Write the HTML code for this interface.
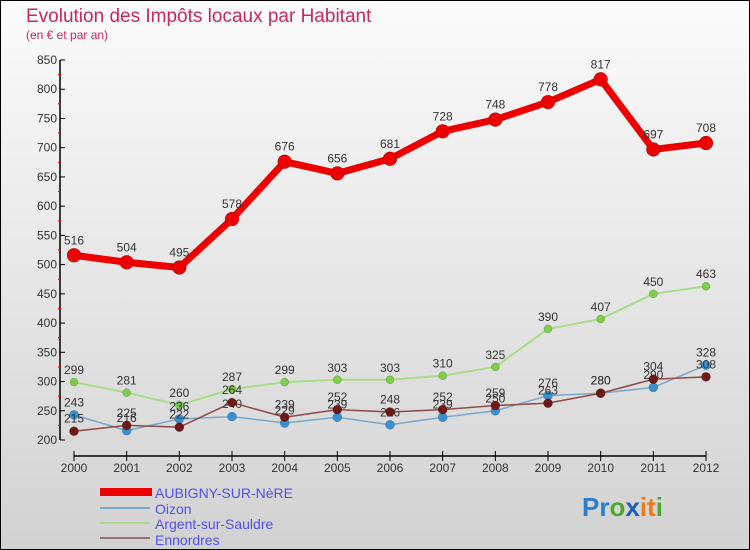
<!DOCTYPE html>
<html><head><meta charset="utf-8"><style>
body{margin:0;}
#wrap{width:750px;height:550px;position:relative;overflow:hidden;font-family:"Liberation Sans","DejaVu Sans",sans-serif;}
</style></head><body>
<div id="wrap">
<svg id="svg" width="750" height="550" xmlns="http://www.w3.org/2000/svg">
<defs><linearGradient id="bg" x1="0" y1="0" x2="0" y2="1"><stop offset="0" stop-color="#fbfbfb"/><stop offset="1" stop-color="#d2d2d2"/></linearGradient></defs>
<rect x="0.5" y="0.5" width="749" height="549" fill="url(#bg)" stroke="#000" stroke-width="1"/>
<text x="26" y="22" font-size="19" fill="#c8285a">Evolution des Impôts locaux par Habitant</text>
<text x="26" y="39" font-size="12" fill="#c8285a">(en € et par an)</text>
<g id="axes"></g><g id="series"></g>
<g>
<rect x="100" y="488" width="52" height="8" fill="#ee0000"/>
<text x="155" y="498" font-size="14" fill="#5050ee">AUBIGNY-SUR-NèRE</text>
<line x1="100" y1="508" x2="150" y2="508" stroke="#7aa8cc" stroke-width="2"/>
<text x="155" y="514" font-size="14" fill="#5050ee">Oizon</text>
<line x1="100" y1="523" x2="150" y2="523" stroke="#a8dc88" stroke-width="2"/>
<text x="155" y="529" font-size="14" fill="#5050ee">Argent-sur-Sauldre</text>
<line x1="100" y1="538" x2="150" y2="538" stroke="#957070" stroke-width="2"/>
<text x="155" y="545" font-size="14" fill="#5050ee">Ennordres</text>
</g>
<text x="582" y="516" font-size="26" font-weight="bold"><tspan fill="#2a7fd0">Pr</tspan><tspan fill="#4caa30">o</tspan><tspan fill="#1a5fc0">x</tspan><tspan fill="#f07a10">it</tspan><tspan fill="#4caa30">i</tspan></text>
</svg></div>
<script>
const years=[2000,2001,2002,2003,2004,2005,2006,2007,2008,2009,2010,2011,2012];
const yTicks=[200,250,300,350,400,450,500,550,600,650,700,750,800,850];
const aubigny=[516,504,495,578,676,656,681,728,748,778,817,697,708];
const oizon=[243,216,236,240,229,239,226,239,250,276,280,290,328];
const argent=[299,281,260,287,299,303,303,310,325,390,407,450,463];
const ennordres=[215,225,222,264,239,252,248,252,259,263,280,304,308];
const NS="http://www.w3.org/2000/svg";
function X(i){return 74+i*(706-74)/(years.length-1);}
function Y(v){return 440-(v-200)*(380/650);}
function mk(t,a,p){const e=document.createElementNS(NS,t);for(const k in a)e.setAttribute(k,a[k]);p.appendChild(e);return e;}
const ax=document.getElementById('axes');
let e=mk('line',{x1:60,y1:Y(850),x2:60,y2:440,stroke:'#000','stroke-width':1.5},ax);


e=mk('line',{x1:74,y1:456,x2:706,y2:456,stroke:'#000','stroke-width':1.5},ax);


yTicks.forEach((v,i)=>{
 mk('line',{x1:60,y1:Y(v),x2:65,y2:Y(v),stroke:'#000'},ax);
 if(i<yTicks.length-1)mk('line',{x1:58,y1:Y(v+25),x2:61,y2:Y(v+25),stroke:'#e00'},ax);
 const t=mk('text',{x:57,y:Y(v)+4,'font-size':12,fill:'#333','text-anchor':'end'},ax);t.textContent=v;
 
 
});
years.forEach((y,i)=>{
 mk('line',{x1:X(i),y1:451,x2:X(i),y2:461,stroke:'#000'},ax);
 const t=mk('text',{x:X(i),y:466+6,'font-size':12,fill:'#333','text-anchor':'middle'},ax);t.textContent=y;
 
 
});
const sg=document.getElementById('series');
function draw(name,vals,col,dot,lw,r){
 const g=mk('g',{},sg);
 
 
 mk('polyline',{points:vals.map((v,i)=>X(i)+','+Y(v)).join(' '),fill:'none',stroke:col,'stroke-width':lw,'stroke-linejoin':'round'},g);
 vals.forEach((v,i)=>{
  const c=mk('circle',{cx:X(i),cy:Y(v),r:r,fill:dot,stroke:'rgba(0,0,0,0.3)','stroke-width':0.5},g);
  
  
  const t=mk('text',{x:X(i),y:Y(v)-r-4,'font-size':12,fill:'#333','text-anchor':'middle'},g);t.textContent=v;
  
  
 });
}
draw('argent',argent,'#a8dc88','#7cd048',2,4);
draw('oizon',oizon,'#7aa8cc','#3890d0',1.5,4.5);
draw('ennordres',ennordres,'#904848','#701818',1.5,4.5);
draw('aubigny',aubigny,'#ee0000','#ee0000',7,7);
</script>
</body></html>
